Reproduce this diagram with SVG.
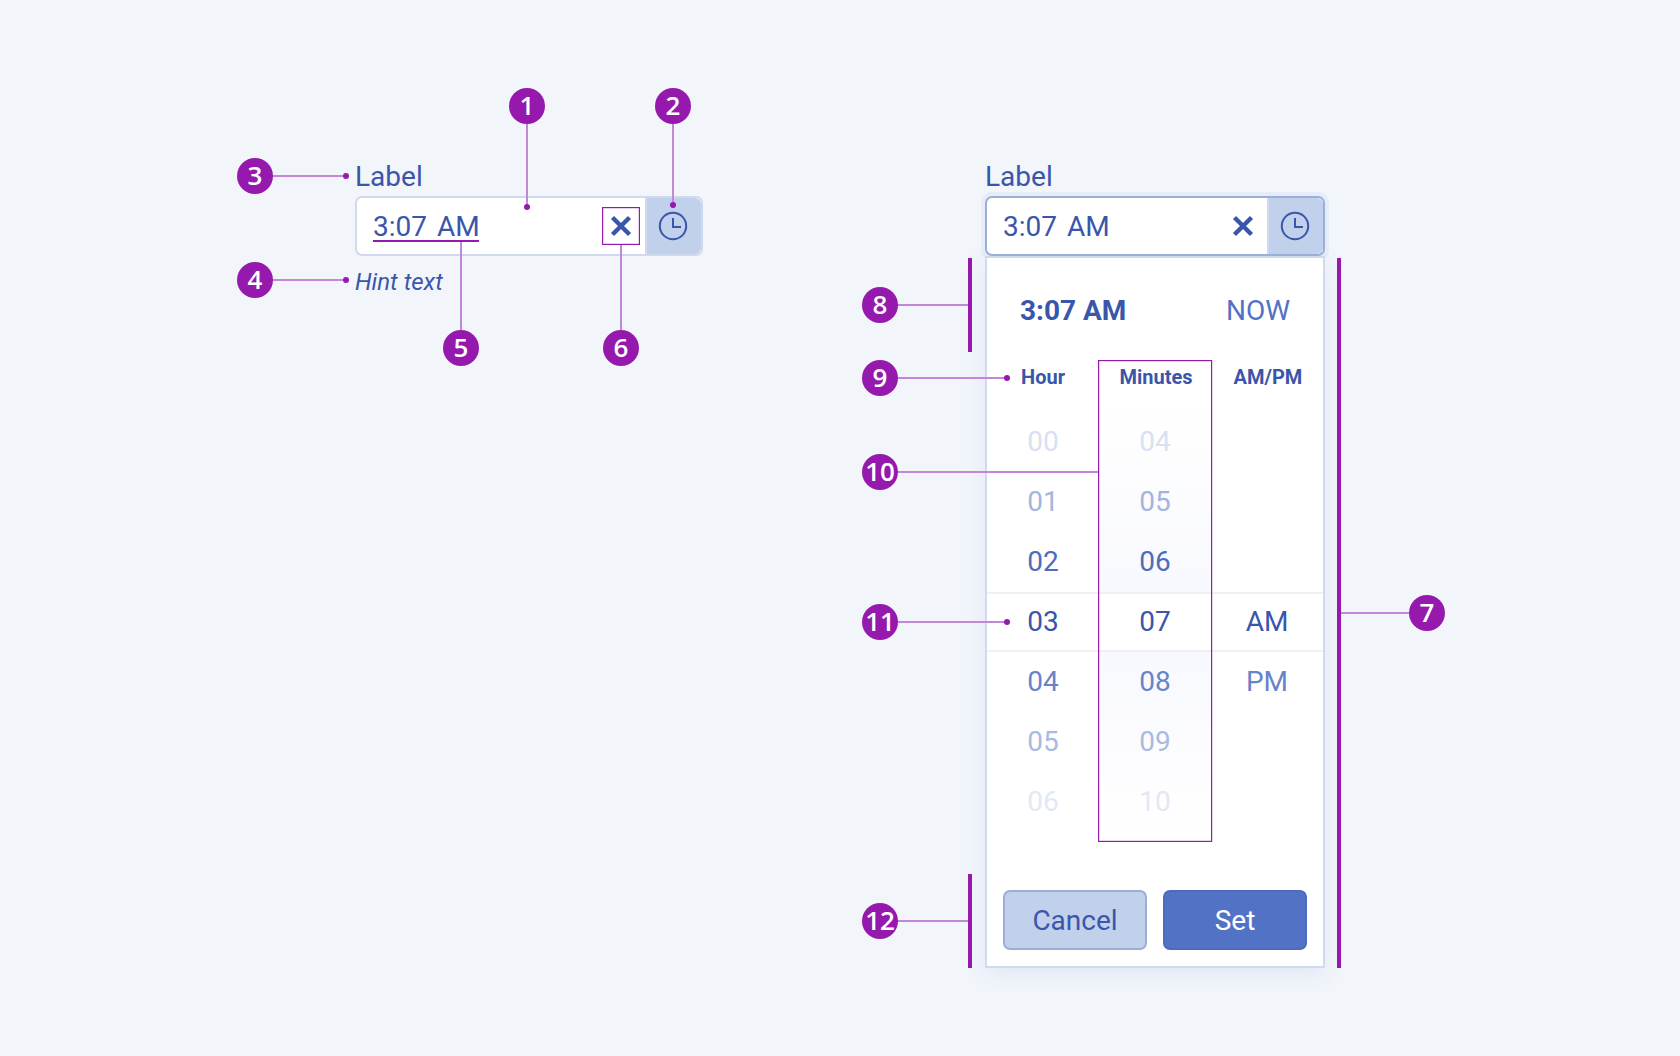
<svg xmlns="http://www.w3.org/2000/svg" width="1680" height="1056" viewBox="0 0 1680 1056">
<style>
text{font-family:Roboto,"Liberation Sans",sans-serif;fill:#3a56ab}
.t28{font-size:28px}
.ws{word-spacing:3px}
.b{font-weight:700}
.h{font-size:20px;font-weight:700;text-anchor:middle}
.n{font-size:28px;text-anchor:middle}
.badge circle{fill:#9619ad}
.badge text{font-family:"Open Sans","Noto Sans",sans-serif;font-size:26px;font-weight:600;fill:#fff;text-anchor:middle}
.conn{stroke:#c387da;stroke-width:2;fill:none}
.dot{fill:#9619ad}
.bar{fill:#9619ad}
.hl{fill:none;stroke:#9619ad;stroke-width:1.2}
.icon{fill:none;stroke:#3a56ab;stroke-width:2}
.x{fill:none;stroke:#3a56ab;stroke-width:4.500}
</style>
<defs>
<filter id="sh" x="-20%" y="-10%" width="140%" height="120%"><feDropShadow dx="0" dy="6" stdDeviation="10" flood-color="#5272c6" flood-opacity="0.1"/></filter>
<linearGradient id="up" x1="0" y1="0" x2="0" y2="1"><stop offset="0" stop-color="#f8f9fe" stop-opacity="0"/><stop offset="1" stop-color="#f8f9fe"/></linearGradient>
<linearGradient id="down" x1="0" y1="0" x2="0" y2="1"><stop offset="0" stop-color="#f8f9fe"/><stop offset="1" stop-color="#f8f9fe" stop-opacity="0"/></linearGradient>
<symbol id="clock" viewBox="-16 -16 32 32" overflow="visible"><circle r="13.2" class="icon"/><path class="icon" d="M0-8V1H8"/></symbol>
</defs>
<rect width="1680" height="1056" fill="#f2f5fa"/>

<g id="closed-picker">
<rect x="356" y="197" width="346" height="58" rx="6" fill="#fff" stroke="#d0d9ed" stroke-width="2"/>
<path d="M645 198H695a6 6 0 0 1 6 6V248a6 6 0 0 1-6 6H645Z" fill="#c1d1eb"/>
<rect x="645" y="198" width="2" height="56" fill="#d0d9ed"/>
<text class="t28" x="355" y="185.700">Label</text>
<text class="t28 ws" x="373" y="235.700">3:07 AM</text>
<text x="355" y="290" font-size="24" font-style="italic">Hint text</text>
<path class="x" d="M612.500 217.500L629.500 234.500M629.500 217.500L612.500 234.500"/>
<use href="#clock" x="657" y="210" width="32" height="32"/>
</g>

<g id="open-picker">
<rect x="981" y="192" width="348" height="68" rx="10" fill="#e6ecf8"/>
<rect x="986" y="257" width="338" height="710" fill="#fff" stroke="#d0d9ed" stroke-width="2" filter="url(#sh)"/>
<rect x="986" y="197" width="338" height="58" rx="6" fill="#fff" stroke="#9aaed8" stroke-width="2"/>
<path d="M1267 198H1317a6 6 0 0 1 6 6V248a6 6 0 0 1-6 6H1267Z" fill="#c1d1eb"/>
<rect x="1267" y="198" width="2" height="56" fill="#d0d9ed"/>
<text class="t28" x="985" y="185.700">Label</text>
<text class="t28 ws" x="1003" y="235.700">3:07 AM</text>
<path class="x" d="M1234.500 217.500L1251.500 234.500M1251.500 217.500L1234.500 234.500"/>
<use href="#clock" x="1279" y="210" width="32" height="32"/>
<text class="t28 b" x="1020" y="320">3:07 AM</text>
<text class="t28" x="1226" y="320" style="fill:#5272c6">NOW</text>
<rect x="1098" y="400" width="114" height="192" fill="url(#up)"/>
<rect x="1098" y="652" width="114" height="190" fill="url(#down)"/>
<rect x="987" y="592" width="336" height="2" fill="#f0f0f2"/>
<rect x="987" y="650" width="336" height="2" fill="#f0f0f2"/>
<text class="h" x="1043" y="384">Hour</text>
<text class="h" x="1156" y="384">Minutes</text>
<text class="h" x="1268" y="384">AM/PM</text>
<g class="col">
<text class="n" x="1043" y="450.500" style="fill:#d8e0f2">00</text>
<text class="n" x="1043" y="510.500" style="fill:#a3b5de">01</text>
<text class="n" x="1043" y="570.500" style="fill:#4e6bbd">02</text>
<text class="n" x="1043" y="630.500">03</text>
<text class="n" x="1043" y="690.500" style="fill:#6983c9">04</text>
<text class="n" x="1043" y="750.500" style="fill:#a9bae0">05</text>
<text class="n" x="1043" y="810.500" style="fill:#e2e8f6">06</text>
<text class="n" x="1155" y="450.500" style="fill:#d8e0f2">04</text>
<text class="n" x="1155" y="510.500" style="fill:#a3b5de">05</text>
<text class="n" x="1155" y="570.500" style="fill:#4e6bbd">06</text>
<text class="n" x="1155" y="630.500">07</text>
<text class="n" x="1155" y="690.500" style="fill:#6983c9">08</text>
<text class="n" x="1155" y="750.500" style="fill:#a9bae0">09</text>
<text class="n" x="1155" y="810.500" style="fill:#e2e8f6">10</text>
<text class="n" x="1267" y="630.500">AM</text>
<text class="n" x="1267" y="690.500" style="fill:#6983c9">PM</text>
</g>
<rect x="1004" y="891" width="142" height="58" rx="6" fill="#c1d1eb" stroke="#9aaed8" stroke-width="2"/>
<text class="n" x="1075" y="930">Cancel</text>
<rect x="1164" y="891" width="142" height="58" rx="6" fill="#5272c6" stroke="#4c6bbd" stroke-width="2"/>
<text class="n" x="1235" y="930" style="fill:#fff">Set</text>
</g>

<g id="connectors">
<path class="conn" d="M527 124V207M673 124V205M273 176H346M273 280H346M461 240V330M621 245V330M898 305H970M898 378H1007M898 472H1098M898 622H1007M898 921H970M1339 613H1409"/>
<circle class="dot" cx="527" cy="207" r="3"/>
<circle class="dot" cx="673" cy="205" r="3"/>
<circle class="dot" cx="346" cy="176" r="3"/>
<circle class="dot" cx="346" cy="280" r="3"/>
<circle class="dot" cx="1007" cy="378" r="3"/>
<circle class="dot" cx="1007" cy="622" r="3"/>
<rect class="bar" x="373" y="240" width="106" height="2"/>
<rect class="hl" x="602.600" y="207.600" width="36.800" height="36.800"/>
<rect class="bar" x="968" y="258" width="4" height="94"/>
<rect class="bar" x="968" y="874" width="4" height="94"/>
<rect class="bar" x="1337" y="258" width="4" height="710"/>
<rect class="hl" x="1098.600" y="360.600" width="113" height="480.800"/>
</g>

<g id="badge-1" class="badge"><circle cx="527" cy="106" r="18"/><text x="527" y="115">1</text></g>
<g id="badge-2" class="badge"><circle cx="673" cy="106" r="18"/><text x="673" y="115">2</text></g>
<g id="badge-3" class="badge"><circle cx="255" cy="176" r="18"/><text x="255" y="185">3</text></g>
<g id="badge-4" class="badge"><circle cx="255" cy="280" r="18"/><text x="255" y="289">4</text></g>
<g id="badge-5" class="badge"><circle cx="461" cy="348" r="18"/><text x="461" y="357">5</text></g>
<g id="badge-6" class="badge"><circle cx="621" cy="348" r="18"/><text x="621" y="357">6</text></g>
<g id="badge-7" class="badge"><circle cx="1427" cy="613" r="18"/><text x="1427" y="622">7</text></g>
<g id="badge-8" class="badge"><circle cx="880" cy="305" r="18"/><text x="880" y="314">8</text></g>
<g id="badge-9" class="badge"><circle cx="880" cy="378" r="18"/><text x="880" y="387">9</text></g>
<g id="badge-10" class="badge"><circle cx="880" cy="472" r="18"/><text x="880" y="481">10</text></g>
<g id="badge-11" class="badge"><circle cx="880" cy="622" r="18"/><text x="880" y="631">11</text></g>
<g id="badge-12" class="badge"><circle cx="880" cy="921" r="18"/><text x="880" y="930">12</text></g>
</svg>
